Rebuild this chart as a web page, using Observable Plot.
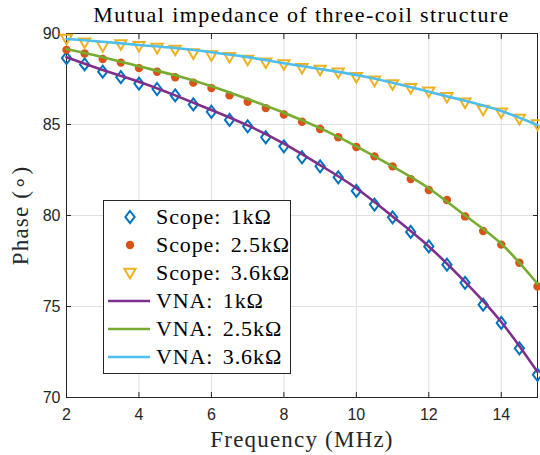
<!DOCTYPE html>
<html>
<head>
<meta charset="utf-8">
<script src="https://cdn.jsdelivr.net/npm/d3@7"></script>
<script src="https://cdn.jsdelivr.net/npm/@observablehq/plot@0.6"></script>
<style>
  html, body { margin: 0; padding: 0; background: white; }
  #wrap { position: relative; width: 540px; height: 455px; overflow: hidden; }
  #title { height: 28px; line-height: 28px; font-family: "Liberation Serif", serif; font-size: 22px; color: #000; position: relative; }
  #title span { position: absolute; left: 46px; width: 511px; text-align: center; top: 1px; letter-spacing: 1.4px; white-space: nowrap; }
  #legend { position: absolute; left: 103px; top: 200px; width: 188px; height: 174px; border: 1px solid #262626; background: white; padding-top: 2px; box-sizing: border-box; }
  .row { height: 28px; display: flex; align-items: center; font-family: "Liberation Serif", serif; font-size: 22px; color: #000; white-space: nowrap; letter-spacing: 0.9px; word-spacing: 3px; }
  .row svg { flex: none; }
  #chart g[aria-label="text"] text { letter-spacing: 1.2px; }
</style>
</head>
<body>
<div id="wrap">
  <div id="title"><span>Mutual impedance of three-coil structure</span></div>
  <div id="chart"></div>
  <div id="legend"></div>
</div>
<script>
// Scope measurements (every 0.5 MHz)
const freqScope = [2, 2.5, 3, 3.5, 4, 4.5, 5, 5.5, 6, 6.5, 7, 7.5, 8, 8.5, 9, 9.5, 10, 10.5, 11, 11.5, 12, 12.5, 13, 13.5, 14, 14.5, 15];
const scope1k  = [88.65, 88.3, 87.9, 87.6, 87.25, 86.95, 86.6, 86.1, 85.7, 85.25, 84.9, 84.3, 83.8, 83.2, 82.7, 82.1, 81.35, 80.6, 79.9, 79.1, 78.3, 77.3, 76.3, 75.1, 74.1, 72.7, 71.25];
const scope2k5 = [89.1, 88.9, 88.6, 88.4, 88.1, 87.9, 87.6, 87.3, 87.0, 86.6, 86.25, 85.9, 85.55, 85.15, 84.75, 84.3, 83.76, 83.25, 82.7, 82.0, 81.4, 80.85, 79.95, 79.15, 78.4, 77.4, 76.1];
const scope3k6 = [89.7, 89.5, 89.3, 89.4, 89.3, 89.2, 89.1, 88.9, 88.8, 88.7, 88.55, 88.4, 88.3, 88.1, 88.0, 87.85, 87.6, 87.4, 87.2, 87.0, 86.8, 86.5, 86.2, 85.8, 85.65, 85.3, 85.0];

// VNA curves (read every 1 MHz)
const freqVNA = [2, 3, 4, 5, 6, 7, 8, 9, 10, 11, 12, 13, 14, 15];
const vna1k  = [88.7, 88.0, 87.35, 86.6, 85.8, 84.95, 83.95, 82.77, 81.5, 79.95, 78.3, 76.35, 74.15, 71.4];
const vna2k5 = [89.15, 88.7, 88.2, 87.7, 87.1, 86.4, 85.65, 84.8, 83.8, 82.7, 81.5, 80.0, 78.45, 76.25];
const vna3k6 = [89.7, 89.55, 89.37, 89.2, 88.97, 88.7, 88.37, 88.05, 87.72, 87.3, 86.8, 86.3, 85.74, 84.97];

const xTicks = [2, 4, 6, 8, 10, 12, 14];
const yTicks = [70, 75, 80, 85, 90];

const scopeNames = ["Scope: 1k\u03A9", "Scope: 2.5k\u03A9", "Scope: 3.6k\u03A9"];
const vnaNames = ["VNA: 1k\u03A9", "VNA: 2.5k\u03A9", "VNA: 3.6k\u03A9"];
const scopeColors = ["#0072BD", "#D95319", "#EDB120"];
const vnaColors = ["#7E2F8E", "#77AC30", "#4DBEEE"];

// custom MATLAB-like marker shapes
const diamondSym = { draw(ctx) { ctx.moveTo(0, -6); ctx.lineTo(4.6, 0); ctx.lineTo(0, 6); ctx.lineTo(-4.6, 0); ctx.closePath(); } };
const downTriSym = { draw(ctx) { ctx.moveTo(-5.6, -4.2); ctx.lineTo(5.6, -4.2); ctx.lineTo(0, 5.4); ctx.closePath(); } };

const toRows = (xs, ys) => xs.map((x, i) => ({x, y: ys[i]}));
const s1 = toRows(freqScope, scope1k), s2 = toRows(freqScope, scope2k5), s3 = toRows(freqScope, scope3k6);
const v1 = toRows(freqVNA, vna1k), v2 = toRows(freqVNA, vna2k5), v3 = toRows(freqVNA, vna3k6);

const serif = "Liberation Serif, serif";

const chart = Plot.plot({
  width: 540, height: 427,
  marginTop: 5, marginBottom: 58, marginLeft: 66, marginRight: 3,
  x: {domain: [2, 15]},
  y: {domain: [70, 90]},
  style: {fontFamily: "Liberation Sans, Arial, sans-serif", fontSize: "16px", color: "#262626", background: "white", overflow: "visible"},
  marks: [
    Plot.gridX(xTicks, {stroke: "#e0e0e0", strokeOpacity: 1}),
    Plot.gridY(yTicks, {stroke: "#e0e0e0", strokeOpacity: 1}),
    Plot.axisX(xTicks, {anchor: "bottom", tickSize: -5, tickPadding: 16, label: null, fontSize: 16, stroke: "#262626"}),
    Plot.axisX(xTicks, {anchor: "top", tickSize: -5, tickFormat: () => "", label: null, stroke: "#262626"}),
    Plot.axisY(yTicks, {anchor: "left", tickSize: -5, tickPadding: 11, label: null, fontSize: 16, stroke: "#262626"}),
    Plot.axisY(yTicks, {anchor: "right", tickSize: -5, tickFormat: () => "", label: null, stroke: "#262626"}),
    Plot.frame({stroke: "#262626", strokeWidth: 1}),
    Plot.dot(s1, {x: "x", y: "y", symbol: diamondSym, stroke: scopeColors[0], strokeWidth: 2, fill: "none"}),
    Plot.dot(s2, {x: "x", y: "y", r: 4.2, fill: scopeColors[1], stroke: "none"}),
    Plot.dot(s3, {x: "x", y: "y", symbol: downTriSym, stroke: scopeColors[2], strokeWidth: 2, fill: "none"}),
    Plot.line(v1, {x: "x", y: "y", stroke: vnaColors[0], strokeWidth: 2.6, curve: "natural"}),
    Plot.line(v2, {x: "x", y: "y", stroke: vnaColors[1], strokeWidth: 2.6, curve: "natural"}),
    Plot.line(v3, {x: "x", y: "y", stroke: vnaColors[2], strokeWidth: 2.6, curve: "natural"}),
    Plot.text(["Frequency (MHz)"], {frameAnchor: "bottom", dy: 42, text: d => d, fontFamily: serif, fontSize: 23, fill: "#262626", lineAnchor: "middle", textAnchor: "middle"}),
    Plot.text(["Phase (\u2218)"], {frameAnchor: "left", dx: -46, rotate: -90, text: d => d, fontFamily: serif, fontSize: 23, fill: "#262626", lineAnchor: "middle", textAnchor: "middle"})
  ]
});
document.getElementById("chart").appendChild(chart);

// legend
const legend = d3.select("#legend");
const items = [
  ...scopeNames.map((n, i) => ({name: n, kind: "scope", i})),
  ...vnaNames.map((n, i) => ({name: n, kind: "vna", i}))
];
items.forEach(it => {
  const row = legend.append("div").attr("class", "row");
  const svg = row.append("svg").attr("width", 50).attr("height", 28);
  if (it.kind === "vna") {
    svg.append("line").attr("x1", 4).attr("x2", 46).attr("y1", 14).attr("y2", 14)
      .attr("stroke", vnaColors[it.i]).attr("stroke-width", 2.6);
  } else {
    const g = svg.append("g").attr("transform", "translate(26,14)");
    if (it.i === 0) {
      const p = d3.path(); diamondSym.draw(p);
      g.append("path").attr("d", p.toString()).attr("fill", "none").attr("stroke", scopeColors[0]).attr("stroke-width", 2);
    } else if (it.i === 1) {
      g.append("circle").attr("r", 4.2).attr("fill", scopeColors[1]);
    } else {
      const p = d3.path(); downTriSym.draw(p);
      g.append("path").attr("d", p.toString()).attr("fill", "none").attr("stroke", scopeColors[2]).attr("stroke-width", 2);
    }
  }
  row.append("span").style("margin-left", "2px").text(it.name);
});
</script>
</body>
</html>
